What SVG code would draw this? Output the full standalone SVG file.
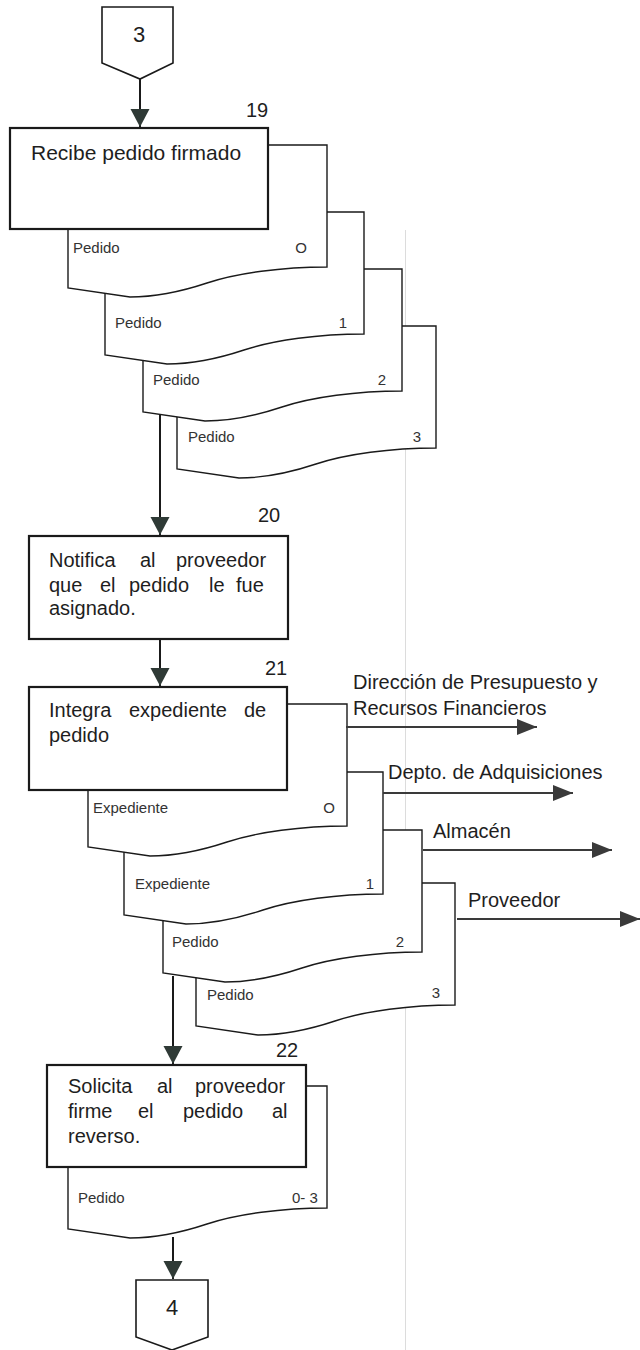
<svg xmlns="http://www.w3.org/2000/svg" xmlns:xlink="http://www.w3.org/1999/xlink" width="640" height="1350" viewBox="0 0 640 1350">
<style>
  text { font-family: "Liberation Sans", Arial, sans-serif; fill: #1e1e1e; }
  .box { fill: #fff; stroke: #1a1a1a; stroke-width: 2.2; }
  .doc { fill: #fff; stroke: #1a1a1a; stroke-width: 1.4; }
  .off { fill: #fff; stroke: #1a1a1a; stroke-width: 1.6; }
  .t { font-size: 20px; }
  .num { font-size: 20px; text-anchor: middle; }
  .big { font-size: 22px; text-anchor: middle; }
  .lbl { font-size: 15px; fill: #333; }
  .lblr { font-size: 15px; fill: #333; text-anchor: middle; }
  .flow { fill: none; stroke: #1a1a1a; stroke-width: 2; }
  .side { fill: none; stroke: #3a3a3a; stroke-width: 2; }
  .fold { fill: none; stroke: #dcdcdc; stroke-width: 1; }
</style>
<defs>
  <path id="docShape" d="M0 0H259V122C214 122 169 128 139 138C109 148 85 152 62 152L0 143Z"/>
  <marker id="ahMain" markerUnits="userSpaceOnUse" markerWidth="20" markerHeight="20" refX="18" refY="9.5" orient="auto">
    <path d="M0 0L18 9.5L0 19Z" fill="#2f3a36"/>
  </marker>
  <marker id="ahSide" markerUnits="userSpaceOnUse" markerWidth="22" markerHeight="18" refX="20" refY="8" orient="auto">
    <path d="M0 0L20 8L0 16Z" fill="#3a3a3a"/>
  </marker>
</defs>

<line class="fold" x1="405.5" y1="230" x2="405.5" y2="1350"/>

<g id="conn3">
  <path class="off" d="M102 7H173V63L140 79L102 63Z"/>
  <text class="big" x="139" y="42">3</text>
</g>

<g id="node19">
  <use xlink:href="#docShape" class="doc" x="177" y="326"/>
  <text class="lbl" x="188" y="442">Pedido</text>
  <text class="lblr" x="417" y="442">3</text>
  <use xlink:href="#docShape" class="doc" x="143" y="269"/>
  <text class="lbl" x="153" y="385">Pedido</text>
  <text class="lblr" x="382" y="385">2</text>
  <use xlink:href="#docShape" class="doc" x="105" y="212"/>
  <text class="lbl" x="115" y="328">Pedido</text>
  <text class="lblr" x="343" y="328">1</text>
  <use xlink:href="#docShape" class="doc" x="68" y="145"/>
  <text class="lbl" x="73" y="253">Pedido</text>
  <text class="lblr" x="301" y="253">O</text>
  <rect class="box" x="10" y="128" width="258" height="101"/>
  <text class="num" x="257" y="117">19</text>
  <text class="t" x="31" y="160" style="font-size:21px">Recibe pedido firmado</text>
</g>

<g id="node20">
  <rect class="box" x="29" y="536" width="259" height="103"/>
  <text class="num" x="269" y="522">20</text>
  <text class="t" y="567"><tspan x="49">Notifica</tspan><tspan x="140">al</tspan><tspan x="176">proveedor</tspan></text>
  <text class="t" y="592"><tspan x="49">que</tspan><tspan x="100">el</tspan><tspan x="129">pedido</tspan><tspan x="209">le</tspan><tspan x="236">fue</tspan></text>
  <text class="t" x="49" y="615">asignado.</text>
</g>

<g id="node21">
  <use xlink:href="#docShape" class="doc" x="196" y="883"/>
  <text class="lbl" x="207" y="1000">Pedido</text>
  <text class="lblr" x="436" y="998">3</text>
  <use xlink:href="#docShape" class="doc" x="163" y="830"/>
  <text class="lbl" x="172" y="947">Pedido</text>
  <text class="lblr" x="400" y="947">2</text>
  <use xlink:href="#docShape" class="doc" x="124" y="772"/>
  <text class="lbl" x="135" y="889">Expediente</text>
  <text class="lblr" x="370" y="889">1</text>
  <use xlink:href="#docShape" class="doc" x="88" y="704"/>
  <text class="lbl" x="93" y="813">Expediente</text>
  <text class="lblr" x="329" y="813">O</text>
  <rect class="box" x="29" y="687" width="258" height="103"/>
  <text class="num" x="276" y="675">21</text>
  <text class="t" y="717"><tspan x="49">Integra</tspan><tspan x="129">expediente</tspan><tspan x="244">de</tspan></text>
  <text class="t" x="49" y="742">pedido</text>
</g>

<g id="dest1">
  <text class="t" x="353" y="689">Dirección de Presupuesto y</text>
  <text class="t" x="353" y="715">Recursos Financieros</text>
</g>
<g id="dest2">
  <text class="t" x="388" y="779">Depto. de Adquisiciones</text>
</g>
<g id="dest3">
  <text class="t" x="433" y="838">Almacén</text>
</g>
<g id="dest4">
  <text class="t" x="468" y="907">Proveedor</text>
</g>

<g id="node22">
  <use xlink:href="#docShape" class="doc" x="68" y="1086"/>
  <text class="lbl" x="78" y="1203">Pedido</text>
  <text class="lbl" x="292" y="1203">0- 3</text>
  <rect class="box" x="47" y="1065" width="259" height="102"/>
  <text class="num" x="287" y="1057">22</text>
  <text class="t" y="1093"><tspan x="68">Solicita</tspan><tspan x="157">al</tspan><tspan x="195">proveedor</tspan></text>
  <text class="t" y="1118"><tspan x="68">firme</tspan><tspan x="138">el</tspan><tspan x="183">pedido</tspan><tspan x="272">al</tspan></text>
  <text class="t" x="68" y="1143">reverso.</text>
</g>

<g id="conn4">
  <path class="off" d="M136 1280H208V1337L172 1350L136 1337Z"/>
  <text class="big" x="172" y="1315">4</text>
</g>

<g id="connectors">
  <line class="flow" x1="140" y1="79" x2="140" y2="127" marker-end="url(#ahMain)"/>
  <line class="flow" x1="160" y1="414" x2="160" y2="535" marker-end="url(#ahMain)"/>
  <line class="flow" x1="160" y1="639" x2="160" y2="686" marker-end="url(#ahMain)"/>
  <line class="flow" x1="173" y1="976" x2="173" y2="1064" marker-end="url(#ahMain)"/>
  <line class="flow" x1="173" y1="1237" x2="173" y2="1279" marker-end="url(#ahMain)"/>
  <line class="side" x1="346" y1="727" x2="537" y2="727" marker-end="url(#ahSide)"/>
  <line class="side" x1="383" y1="793" x2="573" y2="793" marker-end="url(#ahSide)"/>
  <line class="side" x1="423" y1="850" x2="612" y2="850" marker-end="url(#ahSide)"/>
  <line class="side" x1="457" y1="919" x2="640" y2="919" marker-end="url(#ahSide)"/>
</g>
</svg>
